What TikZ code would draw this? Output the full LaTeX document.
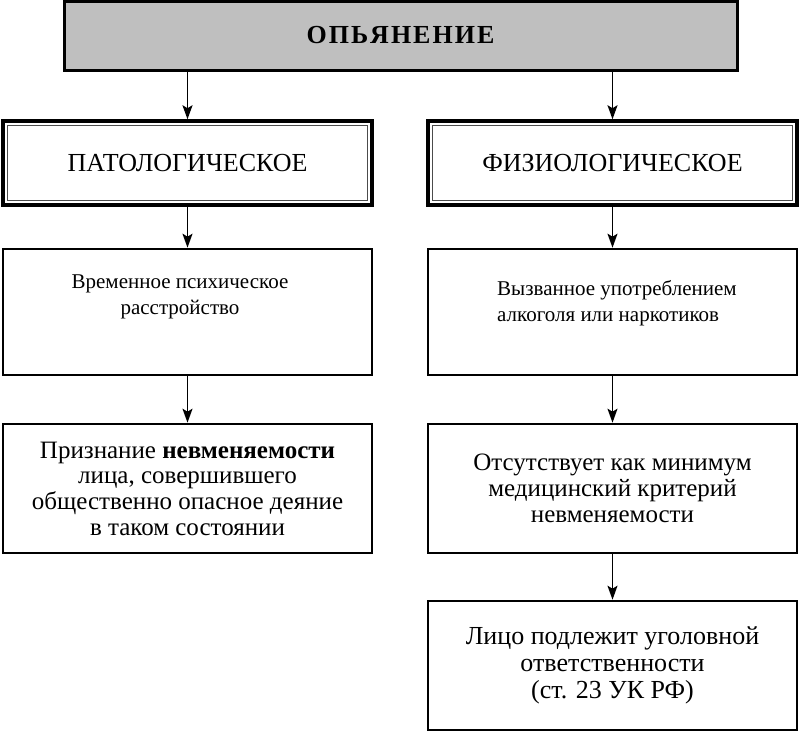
\documentclass[tikz,border=0pt]{standalone}
\usepackage{fontspec}
\setmainfont{Liberation Serif}
\usetikzlibrary{arrows.meta}
\begin{document}
\begin{tikzpicture}[x=1pt,y=-1pt,
  topbox/.style={draw=black,line width=3pt,fill=black!25,inner sep=0pt,minimum width=673pt,minimum height=69pt},
  dblbox/.style={draw=black,line width=3.5pt,inner sep=0pt,minimum width=369pt,minimum height=84pt,
    font=\fontsize{26}{28}\selectfont,
    path picture={\draw[line width=1.2pt,black!70]
      ([shift={(4.5pt,4.5pt)}]path picture bounding box.south west) rectangle
      ([shift={(-4.5pt,-4.5pt)}]path picture bounding box.north east);}},
  plainbox/.style={draw=black,line width=2.6pt,inner sep=0pt,minimum width=369pt,align=center},
  smalltext/.style={font=\fontsize{21}{26}\selectfont,inner sep=0pt},
  bigtext/.style={font=\fontsize{25}{25.7}\selectfont},
  arr/.style={line width=1.8pt,-{Stealth[length=14pt,width=10pt,inset=3pt]}}
]
\useasboundingbox (0,0) rectangle (800,732);
% top
\node[topbox] (top) at (400.5,35.5) {\fontsize{26}{28}\selectfont\bfseries О\kern2ptП\kern2ptЬ\kern2ptЯ\kern2ptН\kern2ptЕ\kern2ptН\kern2ptИ\kern2ptЕ};
% level 2
\node[dblbox] (pat) at (187.5,163) {ПАТОЛОГИЧЕСКОЕ};
\node[dblbox] (fiz) at (612.5,163) {ФИЗИОЛОГИЧЕСКОЕ};
% level 3
\node[plainbox,minimum height=126pt] (l3) at (187.5,312) {};
\node[plainbox,minimum height=126pt] (r3) at (612.5,312) {};
\node[smalltext,align=center,anchor=center] (l3t) at (180,297) {Временное психическое\\расстройство};
\node[smalltext,align=left,anchor=west] (r3t) at (497,303) {Вызванное употреблением\\алкоголя или наркотиков};
% level 4
\node[plainbox,minimum height=129pt,bigtext] (l4) at (187.5,488.5) {Признание \textbf{невменяемости}\\лица, совершившего\\общественно опасное деяние\\в таком состоянии};
\node[plainbox,minimum height=129pt,bigtext] (r4) at (612.5,488.5) {Отсутствует как минимум\\медицинский критерий\\невменяемости};
% level 5
\node[plainbox,minimum height=129pt,font=\fontsize{26}{27}\selectfont] (r5) at (612.5,665.5) {Лицо подлежит уголовной\\ответственности\\(ст. 23 УК РФ)};
% arrows
\draw[arr] (top.south -| pat.north) -- (pat.north);
\draw[arr] (top.south -| fiz.north) -- (fiz.north);
\draw[arr] (pat) -- (l3);
\draw[arr] (fiz) -- (r3);
\draw[arr] (l3) -- (l4);
\draw[arr] (r3) -- (r4);
\draw[arr] (r4) -- (r5);
\end{tikzpicture}
\end{document}
